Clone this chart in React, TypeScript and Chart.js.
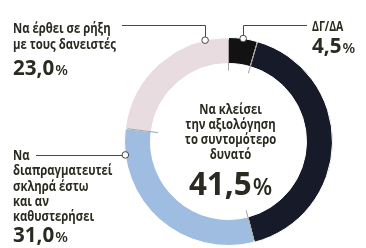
import React, { useEffect, useRef } from "react";
import { Chart, registerables } from "chart.js";

Chart.register(...registerables);

// ---- data ----
const categories = [
  "ΔΓ/ΔΑ",
  "Να κλείσει την αξιολόγηση το συντομότερο δυνατό",
  "Να διαπραγματευτεί σκληρά έστω και αν καθυστερήσει",
  "Να έρθει σε ρήξη με τους δανειστές",
];
const values = [4.5, 41.5, 31.0, 23.0];
const colors = ["#121212", "#171b29", "#9ebde0", "#e8dce1"];

const topRightLines = ["ΔΓ/ΔΑ"];
const centerLines = ["Να κλείσει", "την αξιολόγηση", "το συντομότερο", "δυνατό"];
const leftLines = ["Να", "διαπραγματευτεί", "σκληρά έστω", "και αν", "καθυστερήσει"];
const topLeftLines = ["Να έρθει σε ρήξη", "με τους δανειστές"];

const TEXT = "#2a2a20";
const LINE = "#4a4a45";
const FONT = "'Open Sans', 'Noto Sans', sans-serif";
const SX = 0.78; // condensed look for labels
const SXN = 0.98; // numbers

const fmt = (v: number) => v.toFixed(1).replace(".", ",");

function drawTxt(ctx: CanvasRenderingContext2D, t: string, x: number, y: number, font: string, align: "left" | "center" = "left", sx = SX) {
  ctx.save();
  ctx.font = font;
  ctx.fillStyle = TEXT;
  ctx.textBaseline = "alphabetic";
  ctx.textAlign = align;
  ctx.translate(x, y);
  ctx.scale(sx, 1);
  ctx.fillText(t, 0, 0);
  ctx.restore();
}

function drawPct(ctx: CanvasRenderingContext2D, v: number, x: number, y: number, big: number, small: number, align: "left" | "center") {
  const numFont = `700 ${big}px ${FONT}`;
  const pFont = `600 ${small}px ${FONT}`;
  const num = fmt(v);
  ctx.save();
  ctx.font = numFont;
  const w1 = ctx.measureText(num).width * SXN;
  ctx.font = pFont;
  const w2 = ctx.measureText("%").width * SXN;
  ctx.restore();
  const x0 = align === "center" ? x - (w1 + w2 + 1) / 2 : x;
  drawTxt(ctx, num, x0, y, numFont, "left", SXN);
  drawTxt(ctx, "%", x0 + w1 + 1, y, pFont, "left", SXN);
}

const annotations = {
  id: "annotations",
  afterDraw(chart: any) {
    const ctx: CanvasRenderingContext2D = chart.ctx;
    const meta = chart.getDatasetMeta(0);
    const arcs = meta.data as any[];
    const a0 = arcs[0];
    const cx = a0.x, cy = a0.y, R = a0.outerRadius, r = a0.innerRadius;
    const ptAt = (i: number, frac: number, rad: number) => {
      const a = arcs[i].startAngle + (arcs[i].endAngle - arcs[i].startAngle) * frac;
      return { x: cx + rad * Math.cos(a), y: cy + rad * Math.sin(a) };
    };

    // boundary ticks
    ctx.save();
    ctx.strokeStyle = "rgba(90,90,85,0.7)";
    ctx.lineWidth = 0.8;
    arcs.forEach((arc) => {
      const a = arc.startAngle;
      ctx.beginPath();
      ctx.moveTo(cx + (R - 2) * Math.cos(a), cy + (R - 2) * Math.sin(a));
      ctx.lineTo(cx + (r - 7) * Math.cos(a), cy + (r - 7) * Math.sin(a));
      ctx.stroke();
    });
    ctx.restore();

    const markers = [
      { p: ptAt(3, 0.843, R), lineFromX: 122, lineY: 25 },
      { p: ptAt(0, 0.5, R), lineFromX: 307, lineY: 25 },
      { p: ptAt(2, 0.869, R), lineFromX: 36, lineY: null as number | null },
    ];
    ctx.save();
    ctx.strokeStyle = LINE;
    ctx.lineWidth = 1;
    markers.forEach((m) => {
      ctx.beginPath();
      if (m.lineY !== null) {
        ctx.moveTo(m.lineFromX, m.lineY + 0.5);
        ctx.lineTo(Math.round(m.p.x) + 0.5, m.lineY + 0.5);
        ctx.lineTo(Math.round(m.p.x) + 0.5, m.p.y);
      } else {
        ctx.moveTo(m.lineFromX, Math.round(m.p.y) + 0.5);
        ctx.lineTo(m.p.x, Math.round(m.p.y) + 0.5);
      }
      ctx.stroke();
    });
    markers.forEach((m) => {
      ctx.beginPath();
      ctx.arc(m.p.x, m.p.y, 3.3, 0, Math.PI * 2);
      ctx.fillStyle = "#ffffff";
      ctx.fill();
      ctx.strokeStyle = "#444";
      ctx.lineWidth = 1;
      ctx.stroke();
    });
    ctx.restore();

    const lblFont = `700 14.5px ${FONT}`;
    // top-left
    topLeftLines.forEach((t, i) => drawTxt(ctx, t, 13, 33 + i * 16, lblFont));
    drawPct(ctx, values[3], 13, 75, 21, 15, "left");
    // top-right
    topRightLines.forEach((t, i) => drawTxt(ctx, t, 312, 31 + i * 16, `700 13.5px ${FONT}`));
    drawPct(ctx, values[0], 312, 53, 21, 15, "left");
    // left
    leftLines.forEach((t, i) => drawTxt(ctx, t, 13, 160 + i * 15.3, lblFont));
    drawPct(ctx, values[2], 13, 242, 21, 15, "left");
    // center
    const ccx = cx + 2;
    centerLines.forEach((t, i) => drawTxt(ctx, t, ccx, 113.5 + i * 15, lblFont, "center"));
    drawPct(ctx, values[1], ccx, 195, 32, 23, "center");
  },
};

export default function App() {
  const ref = useRef<HTMLCanvasElement | null>(null);
  useEffect(() => {
    document.body.style.margin = "0";
    const canvas = ref.current;
    if (!canvas) return;
    const chart = new Chart(canvas, {
      type: "doughnut",
      data: {
        labels: categories,
        datasets: [
          {
            data: values,
            backgroundColor: colors,
            borderColor: "#ffffff",
            borderWidth: 1,
            hoverOffset: 0,
          },
        ],
      },
      options: {
        animation: false,
        responsive: false,
        devicePixelRatio: 1,
        cutout: "75%",
        rotation: 0,
        layout: { padding: { left: 124, right: 33, top: 37, bottom: 2 } },
        plugins: { legend: { display: false }, tooltip: { enabled: false } },
      },
      plugins: [annotations],
    });
    return () => chart.destroy();
  }, []);
  return (
    <div style={{ width: 366, height: 248, background: "#ffffff" }}>
      <canvas ref={ref} width={366} height={248} style={{ width: 366, height: 248, display: "block" }} />
    </div>
  );
}
